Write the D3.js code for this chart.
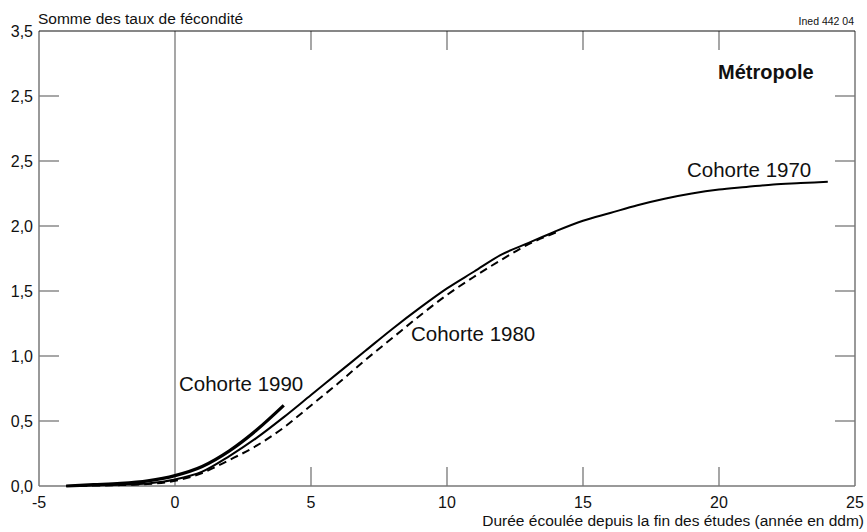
<!DOCTYPE html>
<html>
<head>
<meta charset="utf-8">
<script src="https://cdn.jsdelivr.net/npm/d3@7"></script>
<style>
  body { margin: 0; background: #fff; }
  svg text { font-family: "Liberation Sans", Arial, sans-serif; fill: #111; }
</style>
</head>
<body>
<div id="chart"></div>
<script>
// Years since end of studies
var years1970 = [-4, -3, -2, -1, 0, 1, 2, 3, 4, 5, 6, 7, 8, 9, 10, 11, 12, 13, 14, 15, 16, 17, 18, 19, 20, 21, 22, 23, 24];
var values1970 = [0, 0.005, 0.01, 0.02, 0.05, 0.11, 0.23, 0.37, 0.53, 0.70, 0.87, 1.04, 1.21, 1.37, 1.52, 1.65, 1.78, 1.87, 1.96, 2.04, 2.10, 2.16, 2.21, 2.25, 2.28, 2.30, 2.32, 2.33, 2.34];

var years1980 = [-4, -3, -2, -1, 0, 1, 2, 3, 4, 5, 6, 7, 8, 9, 10, 11, 12, 13, 14];
var values1980 = [0, 0.003, 0.007, 0.015, 0.04, 0.10, 0.20, 0.31, 0.45, 0.62, 0.79, 0.97, 1.14, 1.31, 1.47, 1.61, 1.74, 1.86, 1.95];

var years1990 = [-4, -3, -2, -1, 0, 1, 2, 3, 4];
var values1990 = [0, 0.01, 0.02, 0.04, 0.08, 0.15, 0.27, 0.43, 0.62];

var xTicks = [-5, 0, 5, 10, 15, 20, 25];
var yTicks = [0, 0.5, 1, 1.5, 2, 2.5, 3, 3.5];
var yTickLabels = ['0,0', '0,5', '1,0', '1,5', '2,0', '2,5', '2,5', '3,5'];

var width = 867, height = 532;
var margin = {top: 31, right: 12, bottom: 46, left: 39};

var svg = d3.select('#chart').append('svg')
  .attr('width', width)
  .attr('height', height);

var x = d3.scaleLinear().domain([-5, 25]).range([margin.left, width - margin.right]);
var y = d3.scaleLinear().domain([0, 3.5]).range([height - margin.bottom, margin.top]);

var frameColor = '#777';

// inner ticks (left / right)
var inner = yTicks.filter(function(d) { return d > 0 && d < 3.5; });
svg.selectAll('.ltick').data(inner).enter().append('line')
  .attr('x1', x(-5)).attr('x2', x(-5) + 20)
  .attr('y1', function(d) { return y(d); }).attr('y2', function(d) { return y(d); })
  .attr('stroke', frameColor).attr('stroke-width', 1.3);
svg.selectAll('.rtick').data(inner).enter().append('line')
  .attr('x1', x(25)).attr('x2', x(25) - 20)
  .attr('y1', function(d) { return y(d); }).attr('y2', function(d) { return y(d); })
  .attr('stroke', frameColor).attr('stroke-width', 1.3);

// inner ticks (top / bottom)
var innerX = [5, 10, 15, 20];
svg.selectAll('.btick').data(innerX).enter().append('line')
  .attr('x1', function(d) { return x(d); }).attr('x2', function(d) { return x(d); })
  .attr('y1', y(0)).attr('y2', y(0) - 19)
  .attr('stroke', frameColor).attr('stroke-width', 1.3);
svg.selectAll('.ttick').data(innerX).enter().append('line')
  .attr('x1', function(d) { return x(d); }).attr('x2', function(d) { return x(d); })
  .attr('y1', y(3.5)).attr('y2', y(3.5) + 19)
  .attr('stroke', frameColor).attr('stroke-width', 1.3);

// vertical line at end of studies
svg.append('line')
  .attr('x1', x(0)).attr('x2', x(0))
  .attr('y1', y(0)).attr('y2', y(3.5))
  .attr('stroke', frameColor).attr('stroke-width', 1.3);

// frame
svg.append('line').attr('x1', x(-5)).attr('x2', x(-5)).attr('y1', y(0)).attr('y2', y(3.5))
  .attr('stroke', frameColor).attr('stroke-width', 1.5);
svg.append('line').attr('x1', x(25)).attr('x2', x(25)).attr('y1', y(0)).attr('y2', y(3.5))
  .attr('stroke', frameColor).attr('stroke-width', 1.5);
svg.append('line').attr('x1', x(-5)).attr('x2', x(25)).attr('y1', y(0)).attr('y2', y(0))
  .attr('stroke', frameColor).attr('stroke-width', 1.5);
svg.append('line').attr('x1', x(-5)).attr('x2', x(25)).attr('y1', y(3.5)).attr('y2', y(3.5))
  .attr('stroke', '#111').attr('stroke-width', 1.2);

// tick labels
svg.selectAll('.ylab').data(yTicks).enter().append('text')
  .attr('x', margin.left - 6)
  .attr('y', function(d) { return y(d); })
  .attr('dy', '0.35em')
  .attr('text-anchor', 'end')
  .style('font-size', '16px')
  .text(function(d, i) { return yTickLabels[i]; });

svg.selectAll('.xlab').data(xTicks).enter().append('text')
  .attr('x', function(d) { return x(d); })
  .attr('y', 508)
  .attr('text-anchor', 'middle')
  .style('font-size', '16px')
  .text(function(d) { return d; });

// titles
svg.append('text').attr('x', 38).attr('y', 24)
  .style('font-size', '15.5px')
  .text('Somme des taux de fécondité');
svg.append('text').attr('x', 864).attr('y', 526)
  .attr('text-anchor', 'end')
  .style('font-size', '15.5px')
  .text('Durée écoulée depuis la fin des études (année en ddm)');
svg.append('text').attr('x', 854).attr('y', 25)
  .attr('text-anchor', 'end')
  .style('font-size', '10.5px')
  .text('Ined 442 04');
svg.append('text').attr('x', 718).attr('y', 79)
  .style('font-size', '20px').style('font-weight', 'bold')
  .text('Métropole');

// curves
var line = d3.line()
  .x(function(d) { return x(d[0]); })
  .y(function(d) { return y(d[1]); })
  .curve(d3.curveMonotoneX);

function pairs(xs, vs) { return xs.map(function(d, i) { return [d, vs[i]]; }); }

svg.append('path').datum(pairs(years1980, values1980))
  .attr('d', line).attr('fill', 'none')
  .attr('stroke', '#000').attr('stroke-width', 2).attr('stroke-dasharray', '8,5');
svg.append('path').datum(pairs(years1970, values1970))
  .attr('d', line).attr('fill', 'none')
  .attr('stroke', '#000').attr('stroke-width', 2);
svg.append('path').datum(pairs(years1990, values1990))
  .attr('d', line).attr('fill', 'none')
  .attr('stroke', '#000').attr('stroke-width', 3.2);

// series labels
svg.append('text').attr('x', 179).attr('y', 391).style('font-size', '20.5px').text('Cohorte 1990');
svg.append('text').attr('x', 411).attr('y', 341).style('font-size', '20.5px').text('Cohorte 1980');
svg.append('text').attr('x', 687).attr('y', 177).style('font-size', '20.5px').text('Cohorte 1970');
</script>
</body>
</html>
